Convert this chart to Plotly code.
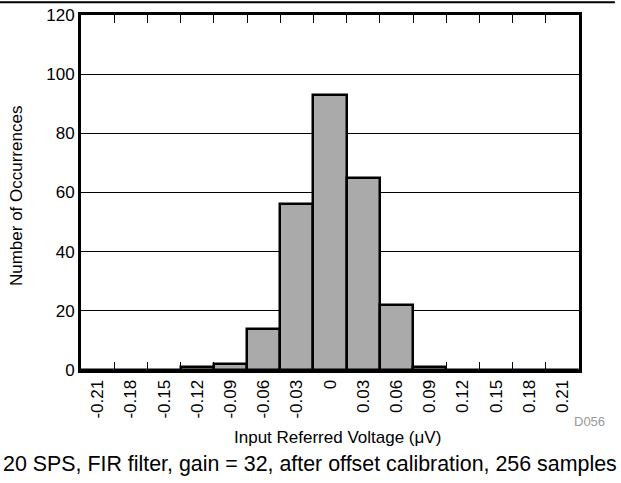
import plotly.graph_objects as go

categories = ["-0.21", "-0.18", "-0.15", "-0.12", "-0.09", "-0.06", "-0.03", "0",
              "0.03", "0.06", "0.09", "0.12", "0.15", "0.18", "0.21"]
counts = [0, 0, 0, 1, 2, 14, 56, 93, 65, 22, 1, 0, 0, 0, 0]

x_title = "Input Referred Voltage (\u03bcV)"
y_title = "Number of Occurrences"
caption = "20 SPS, FIR filter, gain = 32, after offset calibration, 256 samples"
code = "D056"

FONT = "Liberation Sans, Arial, sans-serif"

fig = go.Figure(go.Bar(
    x=categories, y=counts,
    marker=dict(color="#aaaaaa", line=dict(color="black", width=2.5)),
))

fig.update_layout(
    width=621, height=483,
    margin=dict(l=81, r=42, t=15, b=113),
    plot_bgcolor="white", paper_bgcolor="white",
    bargap=0, showlegend=False,
    font=dict(family=FONT, color="black", size=17),
)

fig.update_xaxes(
    type="category", tickson="boundaries", ticks="inside", ticklen=8,
    tickwidth=1, tickcolor="black", tickangle=-90, showgrid=False,
    showline=True, linewidth=3, linecolor="black", mirror="ticks",
    tickfont=dict(size=17, family=FONT), automargin=False,
)
fig.update_yaxes(
    range=[0, 120], dtick=20, showgrid=True, gridcolor="black", gridwidth=1,
    showline=True, linewidth=3, linecolor="black", mirror=True, ticks="",
    tickfont=dict(size=17, family=FONT), zeroline=False, automargin=False,
)

fig.add_shape(type="line", xref="paper", yref="paper",
              x0=-0.165, x1=1.072, y0=1.036, y1=1.036,
              line=dict(color="black", width=2))

fig.add_annotation(text=x_title, xref="paper", yref="paper", x=0.516, y=-0.1915,
                   xanchor="center", yanchor="middle", showarrow=False,
                   font=dict(size=17, family=FONT))
fig.add_annotation(text=y_title, xref="paper", yref="paper", x=-0.1305, y=0.49,
                   xanchor="center", yanchor="middle", showarrow=False,
                   textangle=-90, font=dict(size=17, family=FONT))
fig.add_annotation(text=code, xref="paper", yref="paper", x=1.056, y=-0.144,
                   xanchor="right", yanchor="middle", showarrow=False,
                   font=dict(size=13, color="#999999", family=FONT))
fig.add_annotation(text=caption, xref="paper", yref="paper", x=0.4596, y=-0.265,
                   xanchor="center", yanchor="middle", showarrow=False,
                   font=dict(size=21.4, color="black", family=FONT))

fig.write_html("out.html", config={"displayModeBar": False},
               post_script="document.body.style.margin='0';document.body.style.overflow='hidden';")
